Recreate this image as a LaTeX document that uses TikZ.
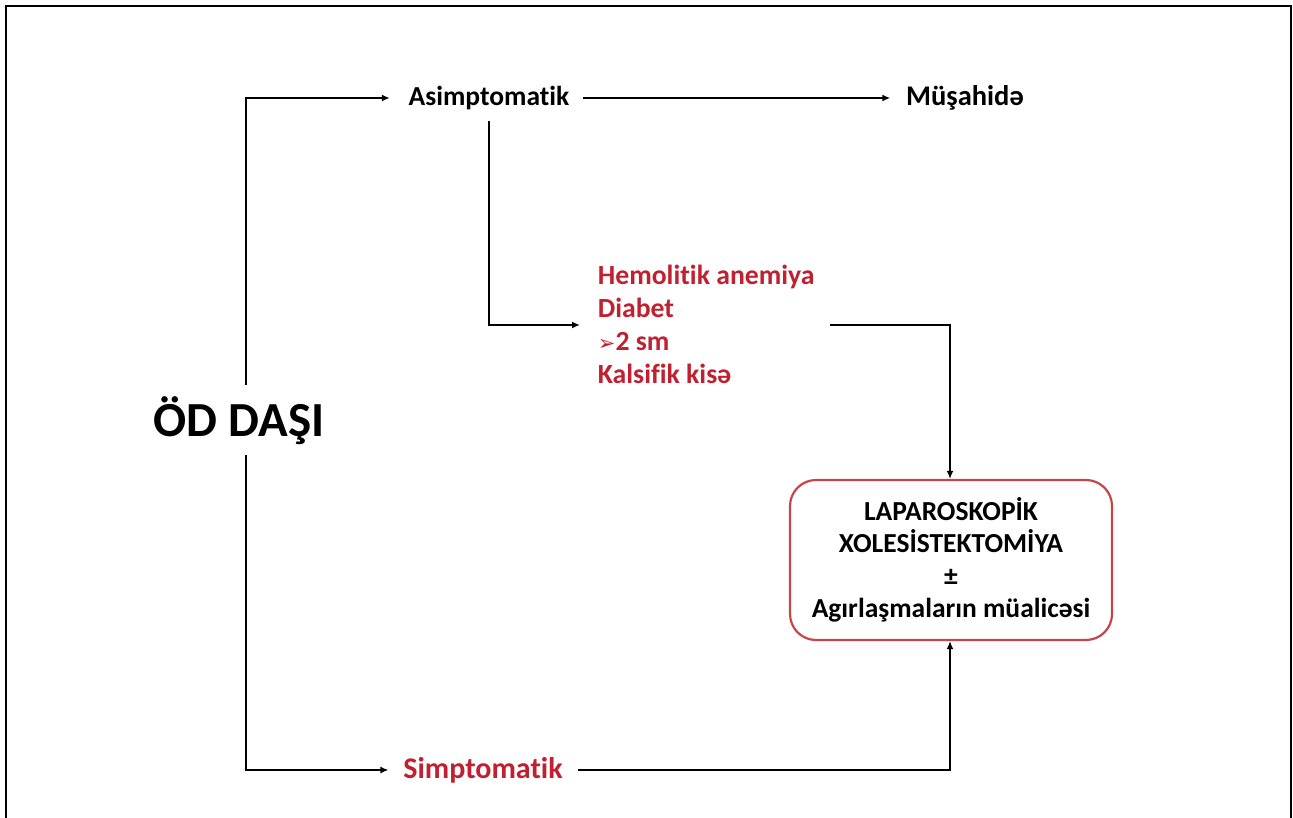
\documentclass[tikz,border=0pt]{standalone}
\usepackage{fontspec}
\setmainfont{Carlito}[RawFeature={-liga}]
\newfontfamily\djv{DejaVu Sans}
\usetikzlibrary{arrows.meta}
\definecolor{dred}{RGB}{192,32,48}
\definecolor{boxred}{RGB}{196,70,74}
\begin{document}
\begin{tikzpicture}[x=1pt,y=-1pt,
  line width=1.8pt,
  arr/.style={-{Latex[length=8pt,width=7pt]}},
  lbl/.style={font=\fontsize{27.5}{30}\selectfont\bfseries, inner sep=0pt},
  redl/.style={font=\fontsize{27.7}{33}\selectfont\bfseries, text=dred, inner sep=0pt, align=left},
  boxnode/.style={draw=boxred, line width=2.2pt, rounded corners=26pt,
    minimum width=322pt, minimum height=160pt, inner sep=0pt, align=center,
    font=\fontsize{27.5}{32.5}\selectfont\bfseries},
  bigl/.style={font=\fontsize{49}{52}\selectfont\bfseries, inner sep=0pt}]
\useasboundingbox (0,0) rectangle (1293,818);
\draw[line width=1.6pt] (6,818) -- (6,6) -- (1291,6) -- (1291,818);

\node[bigl] (od) at (239,421) {ÖD DAŞI};
\node[lbl] (asim) at (489,98) {Asimptomatik};
\node[lbl, font=\fontsize{28.5}{30}\selectfont\bfseries] (mus) at (965,98) {Müşahidə};
\node[lbl, text=dred, font=\fontsize{30}{32}\selectfont\bfseries] (simp) at (483,770) {Simptomatik};
\node[redl, anchor=north west] (risk) at (597,264) {Hemolitik anemiya\\Diabet\\{\djv\fontsize{21}{33}\selectfont ➢}2 sm\\Kalsifik kisə};
\node[boxnode] (box) at (951,560) {LAPAROSKOPİK\\XOLESİSTEKTOMİYA\\±\\Agırlaşmaların müalicəsi};

\coordinate (la) at (246,385);
\coordinate (lb) at (246,455);
\coordinate (rr) at (950,325);

\draw[arr] (la) |- ([xshift=-18pt]asim.west);
\draw[arr] (lb) |- ([xshift=-14pt]simp.west);
\draw[arr] ([xshift=13pt]asim.east) -- ([xshift=-15pt]mus.west);
\draw[arr] (asim.south) ++(0,10) |- ([xshift=-17pt]risk.west |- rr);
\draw[arr] ([xshift=15pt]risk.east |- rr) -| (box.north -| rr);
\draw[arr] ([xshift=14pt]simp.east) -| (box.south -| rr);
\end{tikzpicture}
\end{document}
